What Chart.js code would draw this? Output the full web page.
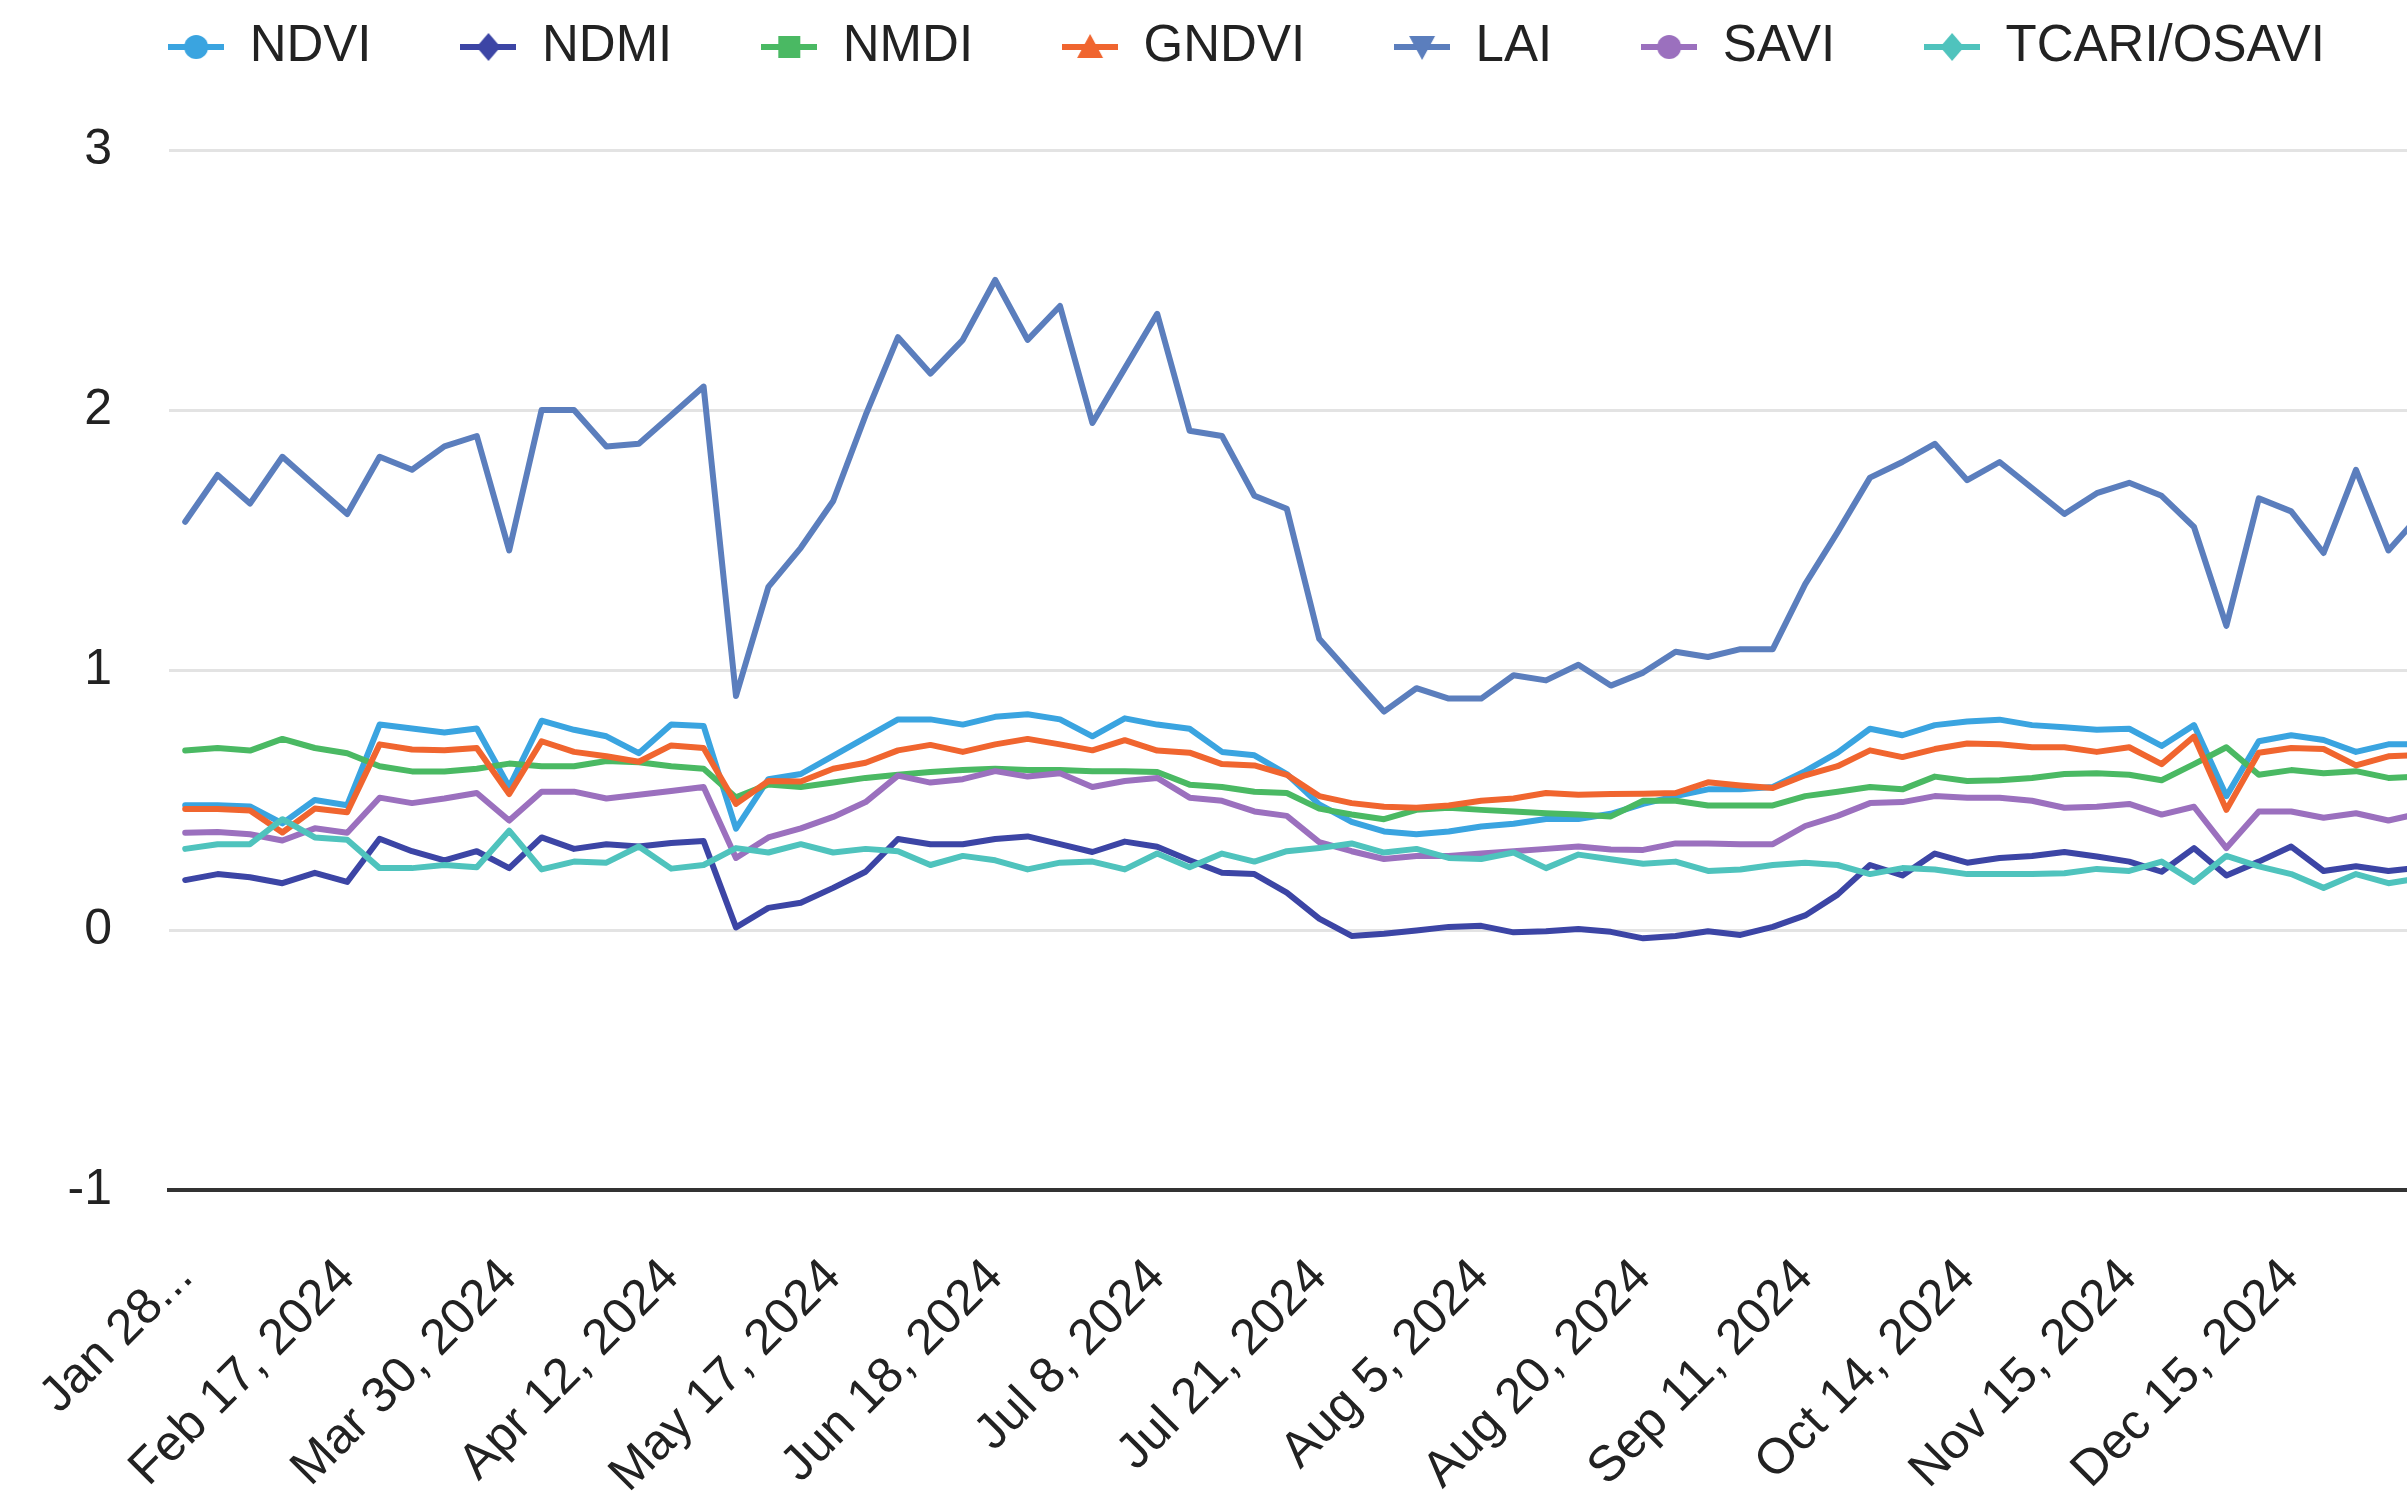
<!DOCTYPE html>
<html>
<head>
<meta charset="utf-8">
<script src="https://cdn.jsdelivr.net/npm/chart.js@4.4.1/dist/chart.umd.min.js"></script>
<style>
html, body { margin: 0; padding: 0; background: #ffffff; overflow: hidden; width: 2407px; height: 1504px; }
#wrap { position: relative; width: 2437px; height: 1504px; }
canvas { display: block; }
</style>
</head>
<body>
<div id="wrap"><canvas id="c" width="2437" height="1504"></canvas></div>
<script>
// ---- Tick labels shown on the x axis (every 5th category) ----
const tickLabels = ['Jan 28...', 'Feb 17, 2024', 'Mar 30, 2024', 'Apr 12, 2024', 'May 17, 2024',
  'Jun 18, 2024', 'Jul 8, 2024', 'Jul 21, 2024', 'Aug 5, 2024', 'Aug 20, 2024',
  'Sep 11, 2024', 'Oct 14, 2024', 'Nov 15, 2024', 'Dec 15, 2024'];
const labelEvery = 5;
const categoryCount = 70;

// ---- Series values ----
const NDVI = [0.48,0.48,0.475,0.41,0.50,0.48,0.79,0.775,0.76,0.775,
  0.55,0.805,0.77,0.745,0.68,0.79,0.785,0.39,0.58,0.60,
  0.67,0.74,0.81,0.81,0.79,0.82,0.83,0.81,0.745,0.814,
  0.79,0.774,0.685,0.672,0.60,0.483,0.416,0.379,0.368,0.379,
  0.398,0.409,0.427,0.427,0.447,0.485,0.515,0.541,0.541,0.55,
  0.611,0.682,0.774,0.749,0.788,0.802,0.809,0.788,0.78,0.77,
  0.774,0.708,0.788,0.515,0.726,0.749,0.731,0.685,0.714,0.714];
const NDMI = [0.192,0.215,0.203,0.18,0.22,0.185,0.351,0.303,0.268,0.303,
  0.238,0.356,0.312,0.33,0.321,0.335,0.342,0.01,0.085,0.105,
  0.162,0.224,0.35,0.33,0.33,0.35,0.36,0.33,0.30,0.34,
  0.32,0.268,0.22,0.215,0.144,0.044,-0.023,-0.014,-0.002,0.012,
  0.016,-0.009,-0.005,0.004,-0.007,-0.032,-0.023,-0.005,-0.019,0.012,
  0.056,0.136,0.25,0.21,0.294,0.259,0.277,0.285,0.30,0.283,
  0.263,0.224,0.315,0.21,0.263,0.321,0.227,0.245,0.227,0.24];
const NMDI = [0.69,0.70,0.69,0.735,0.70,0.68,0.63,0.61,0.61,0.62,
  0.64,0.63,0.63,0.65,0.645,0.63,0.62,0.51,0.56,0.55,
  0.567,0.585,0.597,0.608,0.615,0.62,0.615,0.615,0.611,0.611,
  0.608,0.559,0.55,0.532,0.527,0.467,0.444,0.426,0.462,0.47,
  0.462,0.456,0.449,0.444,0.437,0.497,0.497,0.479,0.479,0.479,
  0.515,0.532,0.55,0.541,0.59,0.573,0.576,0.585,0.60,0.603,
  0.597,0.576,0.638,0.703,0.597,0.615,0.603,0.611,0.585,0.59];
const GNDVI = [0.465,0.465,0.46,0.375,0.467,0.453,0.714,0.694,0.691,0.70,
  0.523,0.726,0.685,0.668,0.647,0.71,0.70,0.485,0.573,0.571,
  0.62,0.643,0.691,0.712,0.685,0.714,0.735,0.714,0.691,0.73,
  0.69,0.682,0.638,0.633,0.597,0.515,0.488,0.474,0.47,0.479,
  0.497,0.506,0.527,0.52,0.523,0.524,0.527,0.568,0.556,0.546,
  0.595,0.63,0.691,0.665,0.696,0.717,0.714,0.703,0.703,0.685,
  0.703,0.638,0.744,0.462,0.682,0.70,0.696,0.633,0.668,0.673];
const LAI = [1.57,1.75,1.64,1.82,1.71,1.60,1.82,1.77,1.86,1.90,
  1.46,2.00,2.00,1.86,1.87,1.98,2.09,0.90,1.32,1.47,
  1.65,1.98,2.28,2.14,2.27,2.50,2.27,2.40,1.95,2.16,
  2.37,1.92,1.90,1.67,1.62,1.12,0.98,0.84,0.93,0.89,
  0.89,0.98,0.96,1.02,0.94,0.99,1.07,1.05,1.08,1.08,
  1.33,1.53,1.74,1.80,1.87,1.73,1.80,1.70,1.60,1.68,
  1.72,1.67,1.55,1.17,1.66,1.61,1.45,1.77,1.46,1.60];
const SAVI = [0.374,0.377,0.368,0.344,0.391,0.374,0.509,0.488,0.506,0.527,
  0.421,0.532,0.532,0.506,0.52,0.535,0.55,0.277,0.356,0.391,
  0.435,0.492,0.594,0.567,0.58,0.611,0.59,0.603,0.55,0.573,
  0.585,0.509,0.497,0.456,0.439,0.338,0.303,0.273,0.285,0.285,
  0.294,0.303,0.312,0.321,0.31,0.308,0.333,0.333,0.33,0.33,
  0.40,0.439,0.488,0.492,0.515,0.509,0.509,0.497,0.47,0.474,
  0.485,0.444,0.474,0.315,0.456,0.456,0.432,0.449,0.421,0.449];
const TCARI_OSAVI = [0.312,0.33,0.33,0.426,0.356,0.347,0.238,0.238,0.25,0.241,
  0.382,0.233,0.263,0.259,0.321,0.236,0.25,0.315,0.298,0.33,
  0.298,0.312,0.303,0.25,0.285,0.268,0.233,0.259,0.263,0.233,
  0.294,0.241,0.294,0.263,0.303,0.315,0.333,0.298,0.312,0.277,
  0.273,0.298,0.238,0.29,0.272,0.255,0.263,0.227,0.233,0.25,
  0.259,0.25,0.215,0.238,0.233,0.215,0.215,0.215,0.218,0.235,
  0.227,0.263,0.185,0.285,0.245,0.215,0.162,0.215,0.18,0.2];

const seriesNames = ['NDVI', 'NDMI', 'NMDI', 'GNDVI', 'LAI', 'SAVI', 'TCARI/OSAVI'];
const seriesData = [NDVI, NDMI, NMDI, GNDVI, LAI, SAVI, TCARI_OSAVI];
const seriesColors = ['#3aa4e0', '#3c45a5', '#4ab963', '#f0652f', '#5b7ebd', '#9b70be', '#4fc3bd'];
const seriesMarkers = ['circle', 'diamond', 'square', 'triangle', 'triangleDown', 'circle', 'diamond'];

// categories: the labelled dates at every 5th position
const categories = Array.from({ length: categoryCount }, (_, i) =>
  i % labelEvery === 0 && tickLabels[i / labelEvery] !== undefined ? tickLabels[i / labelEvery] : '');

const FONT = "'Liberation Sans', Arial, Helvetica, sans-serif";

function makeMarker(color, shape) {
  const c = document.createElement('canvas');
  c.width = 56; c.height = 30;
  const g = c.getContext('2d');
  g.strokeStyle = color; g.lineWidth = 6;
  g.beginPath(); g.moveTo(0, 15); g.lineTo(56, 15); g.stroke();
  g.fillStyle = color;
  g.beginPath();
  if (shape === 'circle') { g.arc(28, 15, 12, 0, Math.PI * 2); }
  else if (shape === 'diamond') { g.moveTo(28, 1); g.lineTo(40, 15); g.lineTo(28, 29); g.lineTo(16, 15); }
  else if (shape === 'square') { g.rect(17, 4, 22, 22); }
  else if (shape === 'triangle') { g.moveTo(28, 2); g.lineTo(41, 26); g.lineTo(15, 26); }
  else if (shape === 'triangleDown') { g.moveTo(15, 4); g.lineTo(41, 4); g.lineTo(28, 28); }
  g.closePath(); g.fill();
  return c;
}

const legendPad = 89;
const legendCenterY = 47;
const legendLayout = {
  id: 'legendLayout',
  beforeInit(chart) {
    const orig = chart.legend.fit;
    chart.legend.fit = function () { orig.call(this); this.height = 150; };
  },
  afterLayout(chart) {
    const l = chart.legend;
    l.top = legendCenterY - legendPad - 25.5;
    l.bottom = l.top + l.height;
  }
};

new Chart(document.getElementById('c'), {
  type: 'line',
  data: {
    labels: categories,
    datasets: seriesNames.map((name, k) => ({
      label: name,
      data: seriesData[k],
      borderColor: seriesColors[k],
      backgroundColor: seriesColors[k],
      borderWidth: 6,
      pointRadius: 0,
      pointHoverRadius: 0,
      pointStyle: makeMarker(seriesColors[k], seriesMarkers[k]),
      tension: 0,
      fill: false,
      borderJoinStyle: 'round',
      borderCapStyle: 'round',
      order: seriesNames.length - k
    }))
  },
  options: {
    responsive: false,
    animation: false,
    events: [],
    layout: { padding: { left: 56, right: 0, top: 0, bottom: 0 } },
    plugins: {
      legend: {
        position: 'top',
        labels: {
          usePointStyle: true,
          pointStyleWidth: 56,
          padding: legendPad,
          color: '#222222',
          font: { family: FONT, size: 51 },
          sort: (a, b) => a.datasetIndex - b.datasetIndex
        }
      },
      tooltip: { enabled: false }
    },
    scales: {
      x: {
        offset: true,
        grid: { display: false, drawTicks: false, offset: true },
        border: { display: true, color: '#333333', width: 4 },
        ticks: {
          autoSkip: false, maxRotation: 45, minRotation: 45, padding: 58,
          color: '#222222', font: { family: FONT, size: 50 }
        },
        afterFit: (s) => { s.paddingLeft = 0; s.paddingRight = 0; s.height = 314; }
      },
      y: {
        min: -1, max: 3,
        ticks: { stepSize: 1, padding: 57, color: '#222222', font: { family: FONT, size: 50 } },
        grid: {
          drawTicks: false,
          color: (ctx) => ctx.tick && ctx.tick.value === -1 ? '#333333' : '#e3e3e3',
          lineWidth: (ctx) => ctx.tick && ctx.tick.value === -1 ? 4 : 3
        },
        border: { display: false },
        afterFit: (s) => { s.width = 113; }
      }
    }
  },
  plugins: [legendLayout]
});
</script>
</body>
</html>
